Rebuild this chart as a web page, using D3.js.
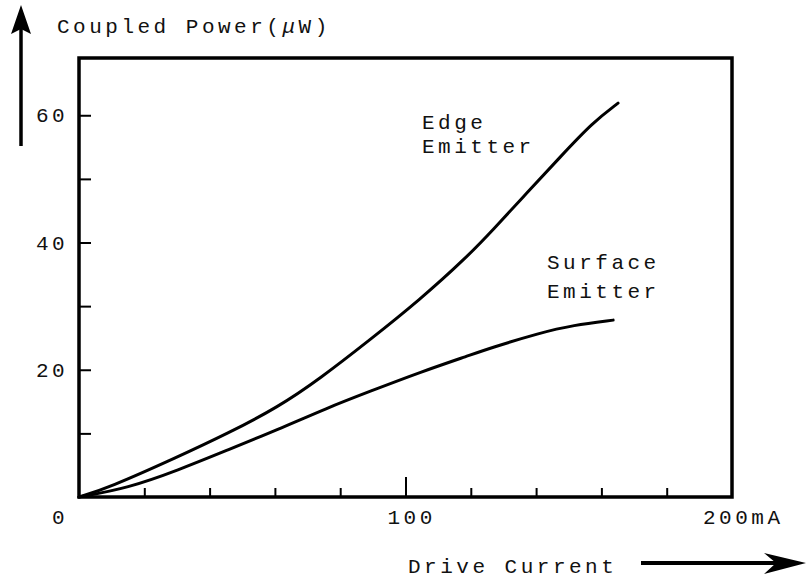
<!DOCTYPE html>
<html>
<head>
<meta charset="utf-8">
<script src="https://cdn.jsdelivr.net/npm/d3@7"></script>
<style>
  html, body { margin: 0; padding: 0; background: #fff; }
  svg text { font-family: "Courier New", "Liberation Mono", monospace; fill: #111; }
</style>
</head>
<body>
<div id="chart1"></div>
<script>
// values (mA, uW)
const edgeCurrent = [0, 8.9, 30.3, 45.6, 60.9, 73.8, 89.1, 104.4, 118.8, 126.8, 137.2, 147.3, 157.4, 165.1];
const edgePower   = [0, 1.4, 6.3, 10.0, 14.1, 18.6, 24.7, 31.0, 37.7, 42.0, 47.8, 53.4, 58.9, 61.9];
const surfaceCurrent = [0, 15, 30.3, 45.6, 60.9, 76, 89.1, 104.4, 119.8, 125.9, 141.2, 151.3, 163.6];
const surfacePower   = [0, 1.4, 4.2, 7.4, 10.6, 14.0, 16.6, 19.6, 22.3, 23.4, 25.8, 27.0, 27.8];
const xTicks = [20, 40, 60, 80, 100, 120, 140, 160, 180];
const yTicks = [10, 20, 30, 40, 50, 60];
const xTickLabels = ["0", "100", "200mA"];
const xTickLabelValues = [0, 100, 200];
const yTickLabels = [20, 40, 60];

const width = 808, height = 581;
const fs = 21, ls = "3.5px";

const x = d3.scaleLinear().domain([0, 200]).range([79, 732]);
const y = d3.scaleLinear().domain([0, 69]).range([497, 58]);

const svg = d3.select('#chart1').append('svg')
  .attr('width', width)
  .attr('height', height);

// frame
svg.append('rect')
  .attr('x', x(0)).attr('y', y(69))
  .attr('width', x(200) - x(0)).attr('height', y(0) - y(69))
  .attr('fill', 'none').attr('stroke', '#000').attr('stroke-width', 3.5);

// inward ticks
const bottom_axis = d3.axisBottom(x).tickValues(xTicks).tickSize(-9).tickFormat('');
const gx = svg.append('g').attr('transform', `translate(0,${y(0)})`).call(bottom_axis);
gx.select('.domain').remove();
gx.selectAll('.tick line').attr('stroke', '#000').attr('stroke-width', 2)
  .attr('y2', d => d === 100 ? -20 : -9);

const left_axis = d3.axisLeft(y).tickValues(yTicks).tickSize(-12).tickFormat('');
const gy = svg.append('g').attr('transform', `translate(${x(0)},0)`).call(left_axis);
gy.select('.domain').remove();
gy.selectAll('.tick line').attr('stroke', '#000').attr('stroke-width', 2);

// tick labels
svg.selectAll('.ylab').data(yTickLabels).enter().append('text')
  .attr('class', 'ylab')
  .attr('x', 36).attr('y', d => y(d) + 7)
  .style('font-size', fs + 'px').style('letter-spacing', ls)
  .text(d => d);

const xlabDx = [-27, -18, -29];
svg.selectAll('.xlab').data(xTickLabels).enter().append('text')
  .attr('class', 'xlab')
  .attr('x', (d, i) => x(xTickLabelValues[i]) + xlabDx[i])
  .attr('y', 524)
  .style('font-size', fs + 'px').style('letter-spacing', ls)
  .text(d => d);

// curves
const line = d3.line()
  .x(d => x(d[0])).y(d => y(d[1]))
  .curve(d3.curveBasis);

const edgeData = edgeCurrent.map((c, i) => [c, edgePower[i]]);
const surfaceData = surfaceCurrent.map((c, i) => [c, surfacePower[i]]);

svg.append('path').datum(edgeData).attr('d', line)
  .attr('fill', 'none').attr('stroke', '#000').attr('stroke-width', 3)
  .attr('stroke-linecap', 'round');
svg.append('path').datum(surfaceData).attr('d', line)
  .attr('fill', 'none').attr('stroke', '#000').attr('stroke-width', 3)
  .attr('stroke-linecap', 'round');

// curve labels
const addLines = (lines, px, py, dy) => {
  const t = svg.append('text').attr('x', px).attr('y', py)
    .style('font-size', fs + 'px').style('letter-spacing', ls);
  lines.forEach((s, i) => t.append('tspan').attr('x', px).attr('dy', i === 0 ? 0 : dy).text(s));
};
addLines(['Edge', 'Emitter'], 422, 129, 24);
addLines(['Surface', 'Emitter'], 547, 269, 29);

// axis titles and arrows
const yt = svg.append('text').attr('x', 57).attr('y', 33)
  .style('font-size', fs + 'px').style('letter-spacing', ls);
yt.append('tspan').text('Coupled Power(');
yt.append('tspan').style('font-style', 'italic').text('\u03bc');
yt.append('tspan').text('W)');

svg.append('line').attr('x1', 21).attr('x2', 21).attr('y1', 146).attr('y2', 28)
  .attr('stroke', '#000').attr('stroke-width', 3.5);
svg.append('path').attr('d', 'M21,5 L11,34 L21,29 L31,34 Z').attr('fill', '#000');

svg.append('text').attr('x', 408).attr('y', 573)
  .style('font-size', fs + 'px').style('letter-spacing', ls)
  .text('Drive Current');
svg.append('line').attr('x1', 641).attr('x2', 785).attr('y1', 563).attr('y2', 563)
  .attr('stroke', '#000').attr('stroke-width', 4);
svg.append('path').attr('d', 'M806,563 L764,553 L776,563 L764,574 Z').attr('fill', '#000');
</script>
</body>
</html>
